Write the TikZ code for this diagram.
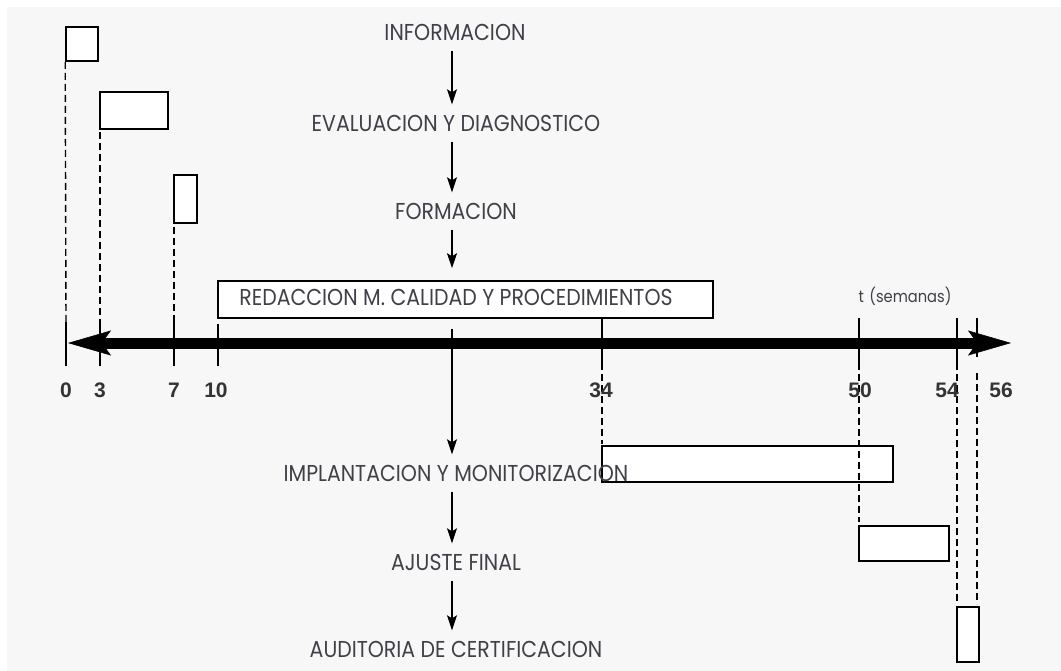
\documentclass[tikz,border=0pt]{standalone}
\usepackage{fontspec}
\usetikzlibrary{arrows.meta}
\newfontfamily\lblfont[FakeStretch=0.89]{Poppins}
\newfontfamily\numfont{Liberation Sans}
\definecolor{bg}{HTML}{F7F7F7}
\definecolor{txt}{HTML}{404048}
\tikzset{
  lbl/.style={font=\lblfont\fontsize{23}{23}\selectfont, text=txt, inner sep=0pt, text height=15pt, text depth=0pt},
  small/.style={font=\lblfont\fontsize{16.5}{16.5}\selectfont, text=txt, inner sep=0pt},
  boxnode/.style={draw, fill=white, line width=1.6pt, inner sep=0pt},
  flow/.style={line width=1.4pt, -{Stealth[length=15pt,width=10pt,inset=3pt]}, shorten <=10pt, shorten >=12pt},
  dashline/.style={line width=1.4pt, dash pattern=on 7pt off 4pt},
  tickline/.style={line width=1.4pt},
  num/.style={font=\numfont\bfseries\fontsize{21}{21}\selectfont, text=black!80, inner sep=0pt},
  axisline/.style={line width=11pt, {Stealth[length=43pt,width=25pt,inset=9pt,line width=0.5pt]}-{Stealth[length=43pt,width=25pt,inset=9pt,line width=0.5pt]}}
}
\begin{document}
\begin{tikzpicture}[x=1pt,y=-1pt]
\useasboundingbox (0,0) rectangle (1061,671);
\fill[bg] (7,7) rectangle (1061,671);

% flow column x
\coordinate (cx) at (452,0);

% boxes
\node[boxnode, minimum width=32pt, minimum height=34pt] (b1) at (82,44) {};
\node[boxnode, minimum width=68pt, minimum height=37pt] (b2) at (134,110.5) {};
\node[boxnode, minimum width=23pt, minimum height=48pt] (b3) at (185.5,199) {};
\node[boxnode, minimum width=495pt, minimum height=37pt] (red) at (465.5,299.5) {};
\node[boxnode, minimum width=291pt, minimum height=36pt] (b5) at (747.5,464) {};
\node[boxnode, minimum width=90pt, minimum height=35pt] (b6) at (904,543.5) {};
\node[boxnode, minimum width=22pt, minimum height=55pt] (b7) at (968,634.5) {};

% ticks and dashed guides (left)
\draw[dashline] (b1.south west) -- (66,322);
\draw[tickline] (66,322) -- (66,366);
\draw[dashline] (100,132) -- (100,322);
\draw[tickline] (100,322) -- (100,366);
\draw[dashline] (174,227) -- (174,322);
\draw[tickline] (174,322) -- (174,366);
\draw[tickline] (218,324) -- (218,366);

% ticks right
\draw[tickline] (602,318) -- (602,363);
\draw[dashline] (602,363) -- (602,444);
\draw[tickline] (859,318) -- (859,363);
\draw[dashline] (859,363) -- (859,522);
\draw[tickline] (957,318) -- (957,363);
\draw[dashline] (957,363) -- (957,604);
\draw[tickline] (977,318) -- (977,357);
\draw[dashline] (977,373) -- (977,604);

% axis
\coordinate (axL) at (68,343);
\coordinate (axR) at (1011,343);
\draw[axisline] (axL) -- (axR);

% labels
\node[lbl] (info) at (455,33) {INFORMACION};
\node[lbl] (eval) at (456,124) {EVALUACION Y DIAGNOSTICO};
\node[lbl] (form) at (456,212) {FORMACION};
\node[lbl] (redtxt) at (456,298) {REDACCION M. CALIDAD Y PROCEDIMIENTOS};
\node[lbl] (impl) at (456,474) {IMPLANTACION Y MONITORIZACION};
\node[lbl] (ajus) at (456,563) {AJUSTE FINAL};
\node[lbl] (audit) at (456,650) {AUDITORIA DE CERTIFICACION};
\node[small] (tsem) at (905,296) {t\,\,(semanas)};

% flow arrows
\draw[flow] (info.south -| cx) -- (eval.north -| cx);
\draw[flow] (eval.south -| cx) -- (form.north -| cx);
\draw[flow] (form.south -| cx) -- (red.north -| cx);
\draw[flow] (red.south -| cx) -- (impl.north -| cx);
\draw[flow] (impl.south -| cx) -- (ajus.north -| cx);
\draw[flow] (ajus.south -| cx) -- (audit.north -| cx);

% numbers
\node[num] (n0) at (66,390) {0};
\node[num] (n3) at (100,390) {3};
\node[num] (n7) at (174,390) {7};
\node[num] (n10) at (216,390) {10};
\node[num] (n34) at (601,390) {34};
\node[num] (n50) at (860,390) {50};
\node[num] (n54) at (947,390) {54};
\node[num] (n56) at (1001,390) {56};
\end{tikzpicture}
\end{document}
